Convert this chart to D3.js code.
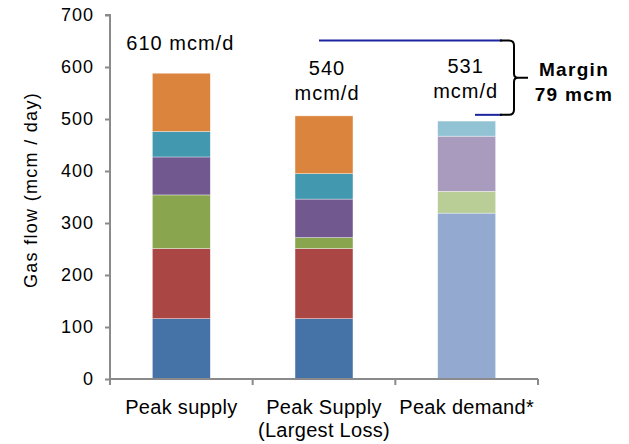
<!DOCTYPE html>
<html><head><meta charset="utf-8">
<script src="https://cdn.jsdelivr.net/npm/d3@7"></script>
<style>
html,body{margin:0;padding:0;background:#fff;}
text{font-family:"Liberation Sans",Arial,sans-serif;fill:#000;}
</style></head>
<body>
<svg id="chart" width="629" height="444"></svg>
<script>
// ---- data ----
const categories = ["Peak supply", "Peak Supply|(Largest Loss)", "Peak demand*"];
const seriesNames = ["Supply 1","Supply 2","Supply 3","Supply 4","Supply 5","Supply 6",
                     "Demand 1","Demand 2","Demand 3","Demand 4"];
const seriesColors = ["#4572A7","#AA4643","#89A54E","#71588F","#4198AF","#DB843D",
                      "#93A9CF","#B9CD96","#A99BBD","#91C3D5"];
const supply1 = [116, 116, 0];
const supply2 = [135, 135, 0];
const supply3 = [103, 21, 0];
const supply4 = [73, 74, 0];
const supply5 = [49, 49, 0];
const supply6 = [112, 111, 0];
const demand1 = [0, 0, 319];
const demand2 = [0, 0, 42];
const demand3 = [0, 0, 106];
const demand4 = [0, 0, 29];
const barLabels = [["610 mcm/d"], ["540", "mcm/d"], ["531", "mcm/d"]];
const yTicks = [0, 100, 200, 300, 400, 500, 600, 700];
const marginLabel = ["Margin", "79 mcm"];
const marginTopValue = 651;
const marginBottomValue = 508;
const yTitle = "Gas flow (mcm / day)";

const allSeries = [supply1, supply2, supply3, supply4, supply5, supply6, demand1, demand2, demand3, demand4];

// ---- build table ----
const table = categories.map((c, i) => {
  const row = {cat: c};
  seriesNames.forEach((s, j) => row[s] = allSeries[j][i]);
  return row;
});
const stacked = d3.stack().keys(seriesNames)(table);

const svg = d3.select("#chart");
const x = d3.scaleBand().domain(categories).range([110, 538]).paddingInner(0.594).paddingOuter(0.297);
const y = d3.scaleLinear().domain([0, 700]).range([379, 15]);
const axisColor = "#8a8a8a";

// bars
svg.append("g").selectAll("g").data(stacked).join("g")
  .attr("fill", (d, i) => seriesColors[i])
  .selectAll("rect").data(d => d.filter(p => p[1] - p[0] > 0)).join("rect")
  .attr("x", d => x(d.data.cat))
  .attr("width", x.bandwidth())
  .attr("y", d => y(d[1]))
  .attr("height", d => y(d[0]) - y(d[1]))
  .attr("stroke", "#ffffff").attr("stroke-opacity", 0.6).attr("stroke-width", 0.6);

// y axis
const yAxis = svg.append("g").attr("transform", "translate(110,0)")
  .call(d3.axisLeft(y).tickValues(yTicks).tickSize(5).tickPadding(11).tickFormat(d3.format("d")));
yAxis.select(".domain").attr("stroke", axisColor).attr("stroke-width", 2).attr("d", "M-5,15H0V379");
yAxis.selectAll(".tick line").attr("stroke", axisColor).attr("stroke-width", 2);
yAxis.selectAll(".tick text").style("font-size", "18px").style("letter-spacing", "1px")
  .style("font-family", "'Liberation Sans',Arial,sans-serif").attr("fill", "#000");

// x axis
const bounds = [110, 110 + x.step(), 110 + 2 * x.step(), 538];
const xAxisG = svg.append("g");
xAxisG.append("line").attr("x1", 110).attr("x2", 538).attr("y1", 379).attr("y2", 379)
  .attr("stroke", axisColor).attr("stroke-width", 2);
xAxisG.selectAll("line.tk").data(bounds).join("line").attr("class", "tk")
  .attr("x1", d => d).attr("x2", d => d).attr("y1", 379).attr("y2", 385)
  .attr("stroke", axisColor).attr("stroke-width", 2);
xAxisG.selectAll("text").data(categories).join("text")
  .attr("text-anchor", "middle")
  .attr("x", d => x(d) + x.bandwidth() / 2)
  .attr("y", 414)
  .style("font-size", "20px").style("letter-spacing", "0.3px")
  .each(function(d) {
    const parts = d.split("|");
    d3.select(this).selectAll("tspan").data(parts).join("tspan")
      .attr("x", x(d) + x.bandwidth() / 2)
      .attr("dy", (p, i) => i === 0 ? 0 : 23)
      .text(p => p);
  });

// y title
svg.append("text").attr("transform", "translate(37,190) rotate(-90)")
  .attr("text-anchor", "middle").style("font-size", "18px").style("letter-spacing", "1.3px")
  .text(yTitle);

// bar value labels
const labelBase = [50, 75, 73];
barLabels.forEach((lines, i) => {
  const cx = x(categories[i]) + x.bandwidth() / 2 - (i === 0 ? 1 : (i === 1 ? -3 : 1));
  const t = svg.append("text").attr("text-anchor", "middle")
    .attr("y", labelBase[i]).style("font-size", "20px").style("letter-spacing", "1px");
  lines.forEach((l, k) => t.append("tspan").attr("x", cx).attr("dy", k === 0 ? 0 : 25).text(l));
});

// margin lines
const lineColor = "#1c24a0";
svg.append("line").attr("x1", 319).attr("x2", 502)
  .attr("y1", y(marginTopValue)).attr("y2", y(marginTopValue))
  .attr("stroke", lineColor).attr("stroke-width", 2);
svg.append("line").attr("x1", 475).attr("x2", 502)
  .attr("y1", y(marginBottomValue)).attr("y2", y(marginBottomValue))
  .attr("stroke", lineColor).attr("stroke-width", 2);

// brace
const yt = y(marginTopValue), yb = y(marginBottomValue), ym = (yt + yb) / 2;
const bx = 514;
svg.append("path")
  .attr("d", `M500,${yt} H${bx - 5} Q${bx},${yt} ${bx},${yt + 5} V${ym - 4} Q${bx},${ym} ${bx + 4},${ym} H${bx + 14}
              M${bx + 4},${ym} Q${bx},${ym} ${bx},${ym + 4} V${yb - 5} Q${bx},${yb} ${bx - 5},${yb} H500`)
  .attr("fill", "none").attr("stroke", "#000").attr("stroke-width", 2);

// margin label
const mt = svg.append("text").attr("text-anchor", "middle").attr("y", 76)
  .style("font-size", "19px").style("font-weight", "bold").style("letter-spacing", "1.3px");
marginLabel.forEach((l, k) => mt.append("tspan").attr("x", 574).attr("dy", k === 0 ? 0 : 25).text(l));
</script>
</body></html>
